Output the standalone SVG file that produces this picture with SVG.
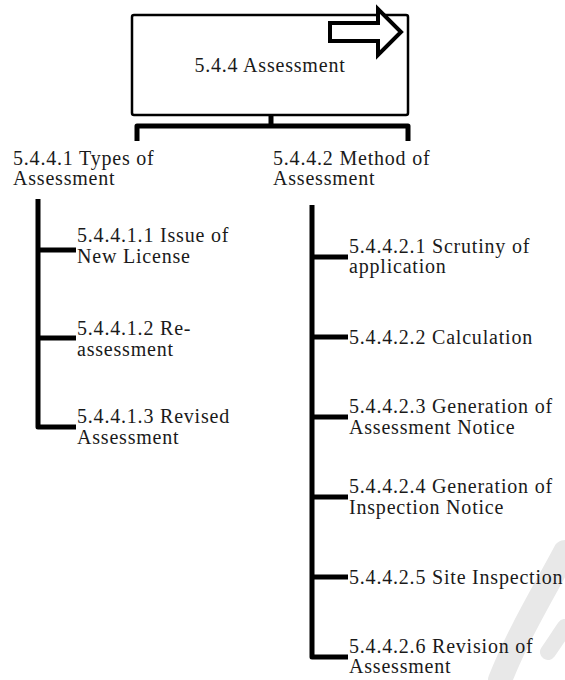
<svg xmlns="http://www.w3.org/2000/svg" width="565" height="680" viewBox="0 0 565 680">
<style>
  .t { font-family: "Liberation Serif", "Times New Roman", serif; font-size: 20px; letter-spacing: 0.8px; fill: #1a1a1a; }
  .c { stroke: #000; stroke-width: 5; fill: none; stroke-linejoin: round; stroke-linecap: butt; }
</style>
<rect width="565" height="680" fill="#fff"/>
<g id="watermark" fill="none" stroke="#e8e8e8" stroke-linecap="round">
  <path d="M565 552 C545 590 520 630 500 680" stroke-width="24"/>
  <path d="M548 652 C555 642 560 634 565 627" stroke-width="16"/>
</g>
<g id="root">
  <rect x="132" y="15" width="276" height="100" rx="2" fill="#fff" stroke="#000" stroke-width="2.5"/>
  <path d="M330 23 L378 23 L378 9 L401 32 L378 55 L378 41 L330 41 Z" fill="#fff" stroke="#000" stroke-width="4" stroke-linejoin="miter"/>
  <text class="t" x="270" y="72" text-anchor="middle">5.4.4 Assessment</text>
</g>
<g id="connectors">
  <path class="c" d="M271 115 L271 126" stroke-width="4"/>
  <path class="c" d="M137 141 L137 126 L408 126 L408 141"/>
  <path class="c" d="M38 199 L38 427 L76 427"/>
  <path class="c" d="M38 250 L76 250"/>
  <path class="c" d="M38 338 L76 338"/>
  <path class="c" d="M312 205 L312 657 L348 657"/>
  <path class="c" d="M312 257 L348 257"/>
  <path class="c" d="M312 337 L348 337"/>
  <path class="c" d="M312 417 L348 417"/>
  <path class="c" d="M312 497 L348 497"/>
  <path class="c" d="M312 577 L348 577"/>
</g>
<g id="n1"><text class="t" x="13" y="165">5.4.4.1 Types of</text><text class="t" x="13" y="185">Assessment</text></g>
<g id="n2"><text class="t" x="273" y="165">5.4.4.2 Method of</text><text class="t" x="273" y="185">Assessment</text></g>
<g id="n11"><text class="t" x="77" y="242">5.4.4.1.1 Issue of</text><text class="t" x="77" y="263">New License</text></g>
<g id="n12"><text class="t" x="77" y="335">5.4.4.1.2 Re-</text><text class="t" x="77" y="356">assessment</text></g>
<g id="n13"><text class="t" x="77" y="423">5.4.4.1.3 Revised</text><text class="t" x="77" y="444">Assessment</text></g>
<g id="n21"><text class="t" x="349" y="253">5.4.4.2.1 Scrutiny of</text><text class="t" x="349" y="273">application</text></g>
<g id="n22"><text class="t" x="349" y="344">5.4.4.2.2 Calculation</text></g>
<g id="n23"><text class="t" x="349" y="413">5.4.4.2.3 Generation of</text><text class="t" x="349" y="434">Assessment Notice</text></g>
<g id="n24"><text class="t" x="349" y="493">5.4.4.2.4 Generation of</text><text class="t" x="349" y="514">Inspection Notice</text></g>
<g id="n25"><text class="t" x="349" y="584">5.4.4.2.5 Site Inspection</text></g>
<g id="n26"><text class="t" x="349" y="653">5.4.4.2.6 Revision of</text><text class="t" x="349" y="673">Assessment</text></g>
</svg>
